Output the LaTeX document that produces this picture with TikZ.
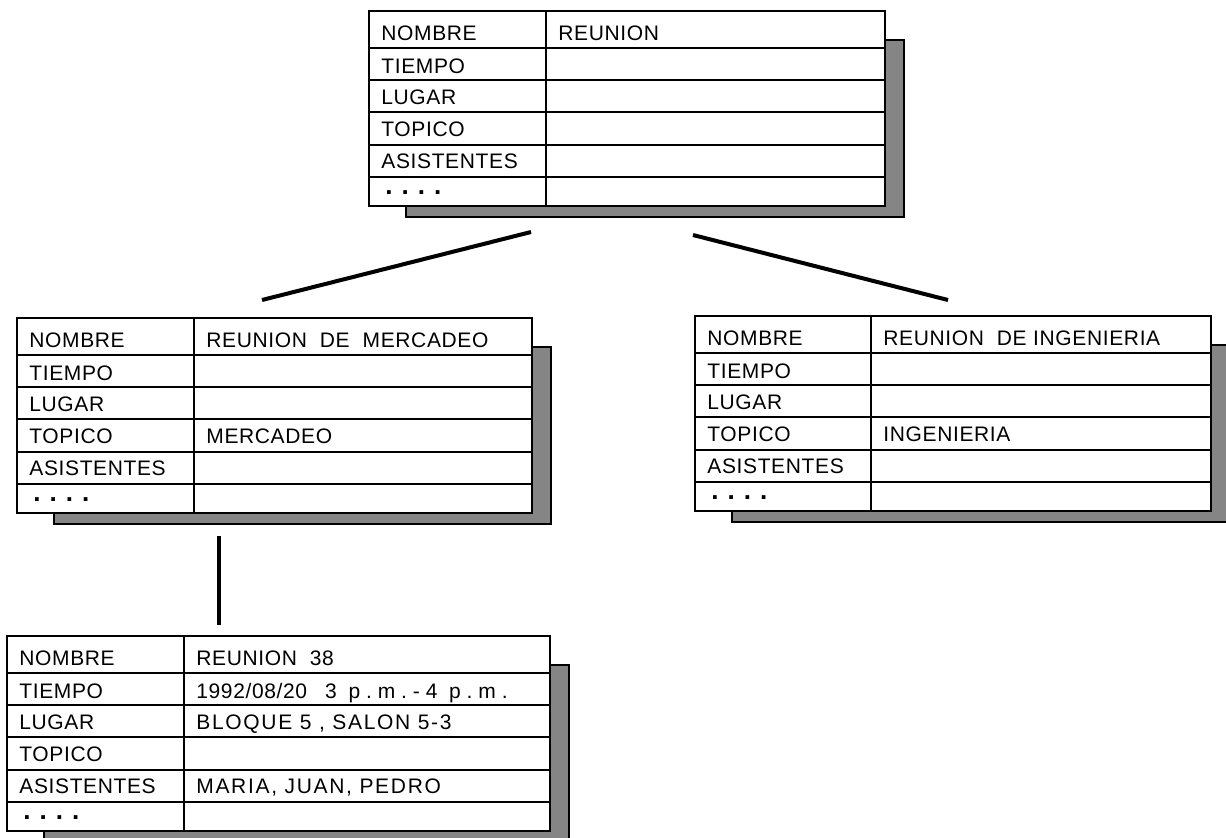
\documentclass[tikz,border=0pt]{standalone}
\usepackage{fontspec}
\setmainfont{Liberation Sans}
\newfontfamily\macfont[LetterSpace=3]{Liberation Sans}
\newfontfamily\macmid[LetterSpace=8]{Liberation Sans}
\newfontfamily\macwide[LetterSpace=28]{Liberation Sans}
\tikzset{
  frame/.style={draw=black, line width=0.95pt, fill=white},
  shadowbox/.style={draw=black, line width=0.8pt, fill=black!48},
  rule/.style={line width=0.8pt},
  lbl/.style={anchor=base west, inner sep=0pt, font=\fontsize{10.5}{12}\macfont},
  link/.style={line width=2pt},
}
% #1 name, #2 left, #3 column, #4 right, #5 top
\newcommand\rtable[5]{%
  \draw[shadowbox] ({#2+37},{#5+29}) rectangle ({#4+19},{#5+206});
  \draw[frame] (#2,#5) rectangle (#4,{#5+195});
  \foreach \o in {37,69,101,134,166} \draw[rule] (#2,{#5+\o}) -- (#4,{#5+\o});
  \draw[rule] (#3,#5) -- (#3,{#5+195});
  \node[lbl] (#1-k1) at ({#2+12},{#5+29}) {NOMBRE};
  \node[lbl] (#1-k2) at ({#2+12},{#5+62}) {TIEMPO};
  \node[lbl] (#1-k3) at ({#2+12},{#5+93}) {LUGAR};
  \node[lbl] (#1-k4) at ({#2+12},{#5+125}) {TOPICO};
  \node[lbl] (#1-k5) at ({#2+12},{#5+157}) {ASISTENTES};
  \node[lbl] (#1-k6) at ({#2+16},{#5+183}) {\fontsize{13}{13}\bfseries .\hspace{4.5pt}.\hspace{4.5pt}.\hspace{4.5pt}.};
  \coordinate (#1-v1) at ({#3+12},{#5+29});
  \coordinate (#1-v2) at ({#3+12},{#5+62});
  \coordinate (#1-v3) at ({#3+12},{#5+93});
  \coordinate (#1-v4) at ({#3+12},{#5+125});
  \coordinate (#1-v5) at ({#3+12},{#5+157});
}
\begin{document}
\begin{tikzpicture}[x=0.5pt, y=-0.5pt]
  \fill[white] (0,0) rectangle (1226,837);
  \clip (0,0) rectangle (1226,837);

  % top table
  \rtable{top}{369}{546}{885}{11}
  \node[lbl] (top-n) at (top-v1) {REUNION};

  % left table
  \rtable{mer}{17}{194}{532}{318}
  \node[lbl] (mer-n) at (mer-v1) {REUNION\ \ DE\ \ MERCADEO};
  \node[lbl] (mer-t) at (mer-v4) {MERCADEO};

  % right table
  \rtable{ing}{695}{871}{1211}{316}
  \node[lbl] (ing-n) at (ing-v1) {REUNION\ \ DE INGENIERIA};
  \node[lbl] (ing-t) at (ing-v4) {INGENIERIA};

  % bottom table
  \rtable{r38}{7}{184}{550}{636}
  \node[lbl] (r38-n) at (r38-v1) {REUNION\ \ 38};
  \node[lbl] (r38-ti) at (r38-v2) {1992/08/20\hspace{9pt}{\macwide 3 p.m.-4 p.m.}};
  \node[lbl] (r38-l) at (r38-v3) {\macmid BLOQUE 5 , SALON 5-3};
  \node[lbl] (r38-a) at (r38-v5) {\macmid MARIA, JUAN, PEDRO};

  % connectors
  \coordinate (c1a) at (531,232);
  \coordinate (c1b) at (262,300);
  \coordinate (c2a) at (693,235);
  \coordinate (c2b) at (948,300);
  \coordinate (c3a) at (219,536);
  \coordinate (c3b) at (219,625);
  \draw[link] (c1a) -- (c1b);
  \draw[link] (c2a) -- (c2b);
  \draw[link] (c3a) -- (c3b);
\end{tikzpicture}
\end{document}
